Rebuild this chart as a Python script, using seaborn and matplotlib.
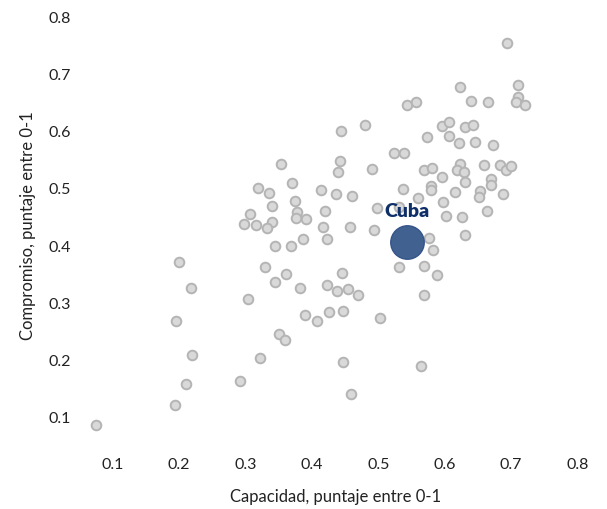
import pandas as pd
import numpy as np
import matplotlib.pyplot as plt
import seaborn as sns

# Capacidad (x) y Compromiso (y) de cada pais
capacidad = [0.693, 0.623, 0.711, 0.710, 0.708, 0.721, 0.639, 0.665, 0.543, 0.557,
             0.443, 0.480, 0.596, 0.606, 0.630, 0.642, 0.573, 0.607, 0.621, 0.645,
             0.673, 0.524, 0.539, 0.442, 0.439, 0.491, 0.568, 0.581, 0.623, 0.618,
             0.629, 0.659, 0.683, 0.692, 0.700, 0.596, 0.670, 0.670, 0.631, 0.580,
             0.579, 0.537, 0.615, 0.653, 0.652, 0.687, 0.413, 0.436, 0.461, 0.560,
             0.597, 0.420, 0.391, 0.498, 0.531, 0.664, 0.602, 0.626, 0.416, 0.457,
             0.493, 0.353, 0.319, 0.336, 0.370, 0.340, 0.375, 0.307, 0.378, 0.376,
             0.298, 0.315, 0.340, 0.332, 0.423, 0.387, 0.345, 0.368, 0.200, 0.329,
             0.361, 0.344, 0.382, 0.423, 0.437, 0.445, 0.218, 0.304, 0.195, 0.389,
             0.408, 0.426, 0.447, 0.351, 0.360, 0.219, 0.322, 0.446, 0.211, 0.292,
             0.193, 0.075, 0.576, 0.582, 0.631, 0.531, 0.568, 0.588, 0.454, 0.469,
             0.568, 0.502, 0.564, 0.459]
compromiso = [0.754, 0.677, 0.680, 0.660, 0.650, 0.645, 0.653, 0.650, 0.645, 0.651,
              0.600, 0.610, 0.608, 0.615, 0.607, 0.610, 0.589, 0.591, 0.579, 0.580,
              0.576, 0.561, 0.561, 0.548, 0.528, 0.533, 0.531, 0.535, 0.542, 0.532,
              0.528, 0.541, 0.541, 0.532, 0.539, 0.519, 0.516, 0.505, 0.510, 0.503,
              0.496, 0.499, 0.493, 0.495, 0.485, 0.489, 0.497, 0.489, 0.486, 0.482,
              0.475, 0.459, 0.446, 0.464, 0.467, 0.460, 0.450, 0.449, 0.432, 0.432,
              0.426, 0.542, 0.500, 0.492, 0.508, 0.469, 0.477, 0.455, 0.458, 0.448,
              0.436, 0.435, 0.440, 0.430, 0.411, 0.410, 0.398, 0.398, 0.370, 0.361,
              0.350, 0.336, 0.325, 0.330, 0.319, 0.351, 0.325, 0.306, 0.267, 0.278,
              0.267, 0.283, 0.284, 0.245, 0.234, 0.208, 0.203, 0.196, 0.157, 0.162,
              0.119, 0.084, 0.413, 0.392, 0.418, 0.361, 0.364, 0.348, 0.323, 0.313,
              0.313, 0.273, 0.189, 0.140]

cuba_x = [0.543]
cuba_y = [0.406]

df = pd.DataFrame({'Capacidad': capacidad, 'Compromiso': compromiso})
cuba = pd.DataFrame({'Capacidad': cuba_x, 'Compromiso': cuba_y})

sns.set_style('white')
plt.rcParams['font.family'] = ['Lato', 'DejaVu Sans']

fig = plt.figure(figsize=(6.07, 5.10), dpi=100)
ax = fig.add_axes([0.1311, 0.1257, 0.8423, 0.8621])

sns.scatterplot(data=df, x='Capacidad', y='Compromiso', ax=ax, s=48,
                color='#d9d9d9', edgecolor='#b4b4b4', linewidth=1.4, zorder=2)
sns.scatterplot(data=cuba, x='Capacidad', y='Compromiso', ax=ax, s=580,
                color='#416190', edgecolor='#34548a', linewidth=1.0, zorder=3)
ax.text(cuba_x[0], cuba_y[0] + 0.055, 'Cuba', ha='center', va='center',
        fontsize=14, fontweight='heavy', color='#0f2f68', zorder=4)

ax.set_xlim(0.05, 0.82)
ax.set_ylim(0.05, 0.82)
ax.set_xticks([0.1, 0.2, 0.3, 0.4, 0.5, 0.6, 0.7, 0.8])
ax.set_yticks([0.1, 0.2, 0.3, 0.4, 0.5, 0.6, 0.7, 0.8])
ax.set_xticklabels(['0.1', '0.2', '0.3', '0.4', '0.5', '0.6', '0.7', '0.8'])
ax.set_yticklabels(['0.1', '0.2', '0.3', '0.4', '0.5', '0.6', '0.7', '0.8'])
ax.tick_params(axis='both', length=0, labelsize=11.5, colors='#222222')
ax.tick_params(axis='x', pad=9)
ax.tick_params(axis='y', pad=6)
ax.set_xlabel('Capacidad, puntaje entre 0-1', fontsize=12, color='#222222', labelpad=12)
ax.set_ylabel('Compromiso, puntaje entre 0-1', fontsize=12, color='#222222', labelpad=9)
sns.despine(ax=ax, left=True, bottom=True)
ax.grid(False)

fig.savefig('out.png', dpi=100)
